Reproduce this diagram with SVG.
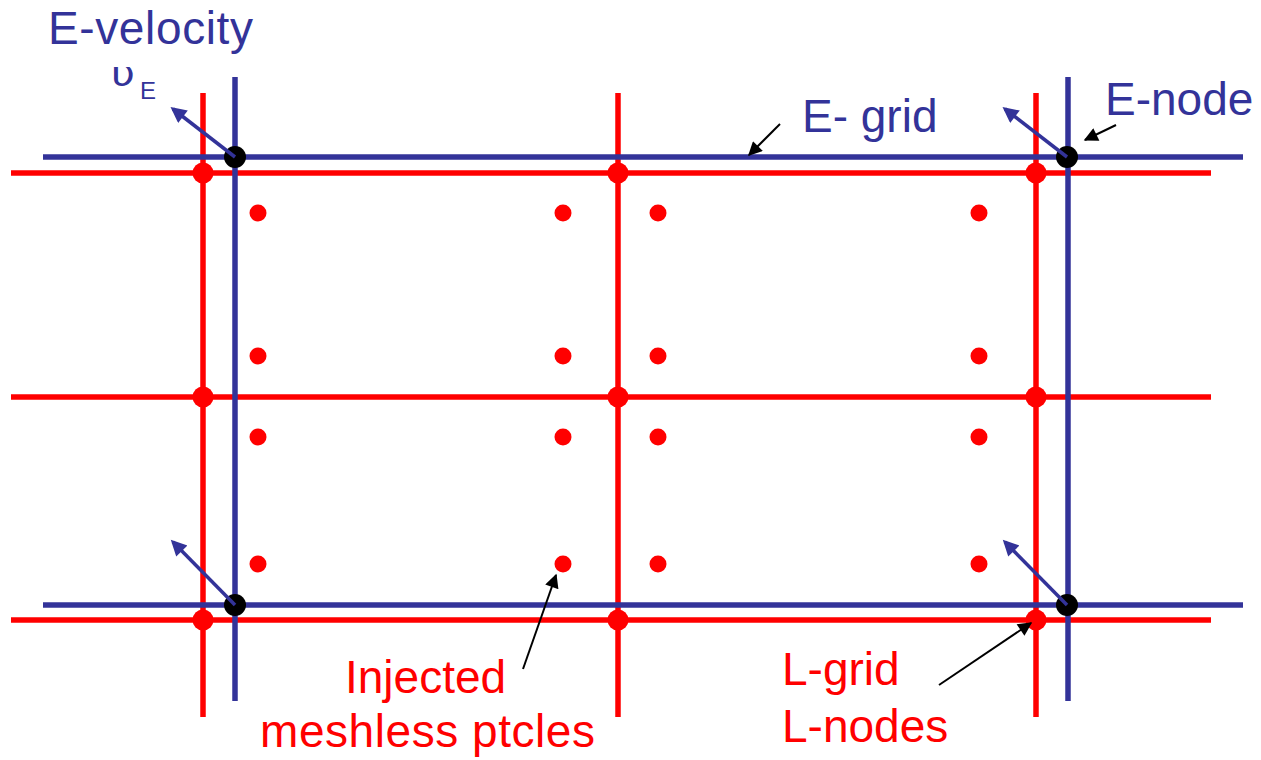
<svg xmlns="http://www.w3.org/2000/svg" width="1261" height="760" viewBox="0 0 1261 760">
<style>
.red{stroke:#ff0000;stroke-width:5.5;fill:none}
.blue{stroke:#333399;stroke-width:5.5;fill:none}
.vel{stroke:#333399;stroke-width:3.5;fill:none;marker-end:url(#bh)}
.lead{stroke:#000;stroke-width:2;fill:none;marker-end:url(#kh)}
.enode{fill:#000}
.lnode{fill:#ff0000}
.pt{fill:#ff0000}
text{font-family:"Liberation Sans",Arial,sans-serif;font-size:46px}
.tb{fill:#333399}
.tr{fill:#ff0000}
</style>
<defs>
<marker id="bh" viewBox="0 0 10 10" refX="8" refY="5" markerWidth="5.5" markerHeight="4.5" markerUnits="strokeWidth" orient="auto"><path d="M0,0 L10,5 L0,10 z" fill="#333399"/></marker>
<marker id="kh" viewBox="0 0 10 10" refX="9" refY="5" markerWidth="9" markerHeight="7" markerUnits="strokeWidth" orient="auto"><path d="M0,0 L10,5 L0,10 z" fill="#000"/></marker>
</defs>
<g id="l-grid">
<line class="red" x1="11" y1="173" x2="1211" y2="173"/>
<line class="red" x1="11" y1="397" x2="1211" y2="397"/>
<line class="red" x1="11" y1="620" x2="1211" y2="620"/>
<line class="red" x1="203" y1="93" x2="203" y2="717"/>
<line class="red" x1="618" y1="93" x2="618" y2="717"/>
<line class="red" x1="1036" y1="93" x2="1036" y2="717"/>
</g>
<g id="e-grid">
<line class="blue" x1="43" y1="157" x2="1243" y2="157"/>
<line class="blue" x1="43" y1="605" x2="1243" y2="605"/>
<line class="blue" x1="235" y1="77" x2="235" y2="701"/>
<line class="blue" x1="1068" y1="77" x2="1068" y2="701"/>
</g>
<g id="l-nodes">
<circle class="lnode" cx="203" cy="173" r="10.5"/>
<circle class="lnode" cx="618" cy="173" r="10.5"/>
<circle class="lnode" cx="1036" cy="173" r="10.5"/>
<circle class="lnode" cx="203" cy="397" r="10.5"/>
<circle class="lnode" cx="618" cy="397" r="10.5"/>
<circle class="lnode" cx="1036" cy="397" r="10.5"/>
<circle class="lnode" cx="203" cy="620" r="10.5"/>
<circle class="lnode" cx="618" cy="620" r="10.5"/>
<circle class="lnode" cx="1036" cy="620" r="10.5"/>
</g>
<g id="particles">
<circle class="pt" cx="258" cy="213" r="8.5"/><circle class="pt" cx="563" cy="213" r="8.5"/><circle class="pt" cx="658" cy="213" r="8.5"/><circle class="pt" cx="979" cy="213" r="8.5"/>
<circle class="pt" cx="258" cy="356" r="8.5"/><circle class="pt" cx="563" cy="356" r="8.5"/><circle class="pt" cx="658" cy="356" r="8.5"/><circle class="pt" cx="979" cy="356" r="8.5"/>
<circle class="pt" cx="258" cy="437" r="8.5"/><circle class="pt" cx="563" cy="437" r="8.5"/><circle class="pt" cx="658" cy="437" r="8.5"/><circle class="pt" cx="979" cy="437" r="8.5"/>
<circle class="pt" cx="258" cy="564" r="8.5"/><circle class="pt" cx="563" cy="564" r="8.5"/><circle class="pt" cx="658" cy="564" r="8.5"/><circle class="pt" cx="979" cy="564" r="8.5"/>
</g>
<g id="e-nodes">
<circle class="enode" cx="235" cy="157" r="11"/>
<circle class="enode" cx="1067" cy="157" r="11"/>
<circle class="enode" cx="235" cy="605" r="11"/>
<circle class="enode" cx="1067" cy="605" r="11"/>
</g>
<g id="connectors">
<line class="vel" x1="235" y1="157" x2="173" y2="109"/>
<line class="vel" x1="235" y1="605" x2="173" y2="542"/>
<line class="vel" x1="1067" y1="157" x2="1005" y2="109"/>
<line class="vel" x1="1067" y1="605" x2="1005" y2="542"/>
<line class="lead" x1="1116" y1="125" x2="1085" y2="140"/>
<line class="lead" x1="780" y1="124" x2="749" y2="155"/>
<line class="lead" x1="523" y1="669" x2="556" y2="575"/>
<line class="lead" x1="939" y1="685" x2="1031" y2="623"/>
</g>
<g id="labels">
<text class="tb" x="48" y="44" textLength="205">E-velocity</text>
<text class="tb" x="111" y="86" textLength="24" lengthAdjust="spacingAndGlyphs" style="font-size:34px;font-family:'DejaVu Sans','Liberation Sans',sans-serif">υ</text>
<text class="tb" x="140" y="99" style="font-size:24px">E</text>
<text class="tb" x="802" y="132">E- grid</text>
<text class="tb" x="1105" y="115">E-node</text>
<text class="tr" x="345" y="693">Injected</text>
<text class="tr" x="260" y="747" textLength="335">meshless ptcles</text>
<text class="tr" x="782" y="685">L-grid</text>
<text class="tr" x="782" y="742">L-nodes</text>
</g>
</svg>
